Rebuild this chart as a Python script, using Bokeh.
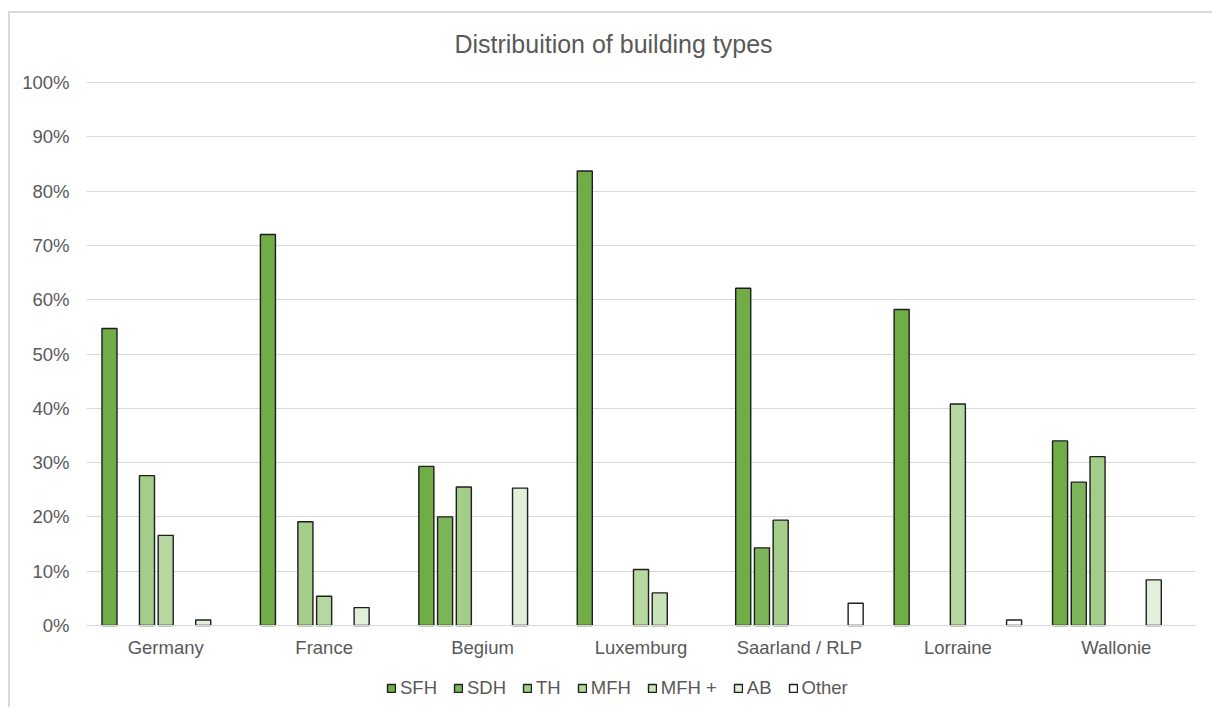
from bokeh.plotting import figure
from bokeh.models import (FactorRange, Range1d, ColumnDataSource, Legend, LegendItem,
                          PrintfTickFormatter, FixedTicker, Label)
from bokeh.transform import dodge
from bokeh.embed import file_html
from bokeh.resources import INLINE

regions = ["Germany", "France", "Begium", "Luxemburg", "Saarland / RLP", "Lorraine", "Wallonie"]
series = ["SFH", "SDH", "TH", "MFH", "MFH +", "AB", "Other"]
SFH   = [54.7, 72.0, 29.3, 83.7, 62.1, 58.2, 34.0]
SDH   = [0.0, 0.0, 20.0, 0.0, 14.3, 0.0, 26.4]
TH    = [27.6, 19.1, 25.5, 0.0, 19.4, 0.0, 31.1]
MFH   = [16.6, 5.4, 0.0, 10.3, 0.0, 40.8, 0.0]
MFHp  = [0.0, 0.0, 0.0, 6.0, 0.0, 0.0, 0.0]
AB    = [1.0, 3.3, 25.3, 0.0, 0.0, 0.0, 8.4]
Other = [0.0, 0.0, 0.0, 0.0, 4.1, 1.0, 0.0]
values = [SFH, SDH, TH, MFH, MFHp, AB, Other]
colors = ["#70AD47", "#7DB65A", "#A5CD8A", "#B6D8A0", "#C9E3B8", "#E2EFDA", "#FFFFFF"]
y_ticks = [0, 10, 20, 30, 40, 50, 60, 70, 80, 90, 100]
title_text = "Distribuition of building types"

FONT = "Liberation Sans"
TXT = "#595959"

# frame spans whole canvas height: 696 px; 0% sits 84 px above bottom, 100% 69 px below top
PX = 543 / 100.0
p = figure(x_range=FactorRange(*regions), y_range=Range1d(-84 / PX, 100 + 69 / PX),
           width=1204, height=696, output_backend="svg", toolbar_location=None,
           min_border_left=76, min_border_right=19, min_border_top=0, min_border_bottom=0)
p.styles = {"border-left": "2px solid #d9d9d9", "border-top": "2px solid #d9d9d9"}
p.margin = (11, 0, 0, 8)

slot = 0.1183
items = []
for i, (s, c) in enumerate(zip(series, colors)):
    regs = [r for r, v in zip(regions, values[i]) if v > 0]
    vals = [v for v in values[i] if v > 0]
    src = ColumnDataSource(dict(region=regs, val=vals))
    r = p.vbar(x=dodge("region", (i - 3) * slot, range=p.x_range), top="val", width=0.095,
               source=src, fill_color=c, line_color="#1e1e1e", line_width=1.4)
    items.append(LegendItem(label=s, renderers=[r]))

legend = Legend(items=items, orientation="horizontal", location=(300, 10),
                label_text_font=FONT, label_text_font_size="18.5px", label_text_color=TXT,
                glyph_width=10, glyph_height=10, label_standoff=4, spacing=16,
                border_line_alpha=0, background_fill_alpha=0, padding=0, margin=0)
p.add_layout(legend, "center")

title = Label(x=527, y=100 + (82 - 43) / PX, x_units="screen", y_units="data",
              text=title_text, text_align="center", text_baseline="middle",
              text_font=FONT, text_font_size="25px", text_color=TXT)
p.add_layout(title)

p.outline_line_color = None
p.xgrid.grid_line_color = None
p.ygrid.ticker = FixedTicker(ticks=y_ticks)
p.ygrid.grid_line_color = "#d9d9d9"
p.ygrid.grid_line_width = 1
p.yaxis.ticker = FixedTicker(ticks=y_ticks)
p.yaxis.formatter = PrintfTickFormatter(format="%d%%")
p.yaxis.axis_line_color = None
p.yaxis.major_tick_line_color = None
p.yaxis.minor_tick_line_color = None
p.yaxis.major_label_standoff = 11
p.xaxis.fixed_location = 0
p.xaxis.axis_line_color = "#d9d9d9"
p.xaxis.major_tick_line_color = None
p.xaxis.minor_tick_line_color = None
p.xaxis.major_label_standoff = 5
for ax in (p.xaxis[0], p.yaxis[0]):
    ax.major_label_text_font = FONT
    ax.major_label_text_font_size = "18.5px"
    ax.major_label_text_color = TXT
p.x_range.range_padding = 0
p.x_range.group_padding = 0

open("out.html", "w").write(file_html(p, INLINE))
